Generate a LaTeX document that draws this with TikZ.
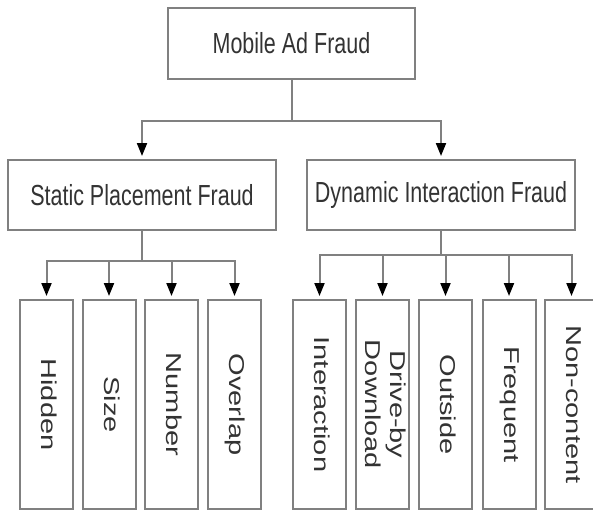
\documentclass[tikz,border=0pt]{standalone}
\usepackage{fontspec}
\usepackage{graphicx}
\setsansfont{Liberation Sans}
\usetikzlibrary{arrows.meta}

% text in the scan is drawn a bit taller than wide
\newcommand{\tallText}[1]{\scalebox{1}[1.35]{#1}}
\newcommand{\sideText}[1]{\rotatebox{-90}{\scalebox{1.35}[1]{\begin{tabular}{@{}c@{}}#1\end{tabular}}}}

\tikzset{
  box/.style={draw=black!50, line width=2pt, fill=white, inner sep=0pt,
    text=black!80, font=\sffamily\fontsize{21.5}{25}\selectfont},
  leafbox/.style={box, minimum width=53pt, minimum height=209pt},
  link/.style={draw=black!50, line width=2pt},
  arrowlink/.style={link, -{Triangle[color=black, width=10pt, length=13pt]}, shorten >=3pt}
}

\begin{document}
\begin{tikzpicture}[x=1pt, y=-1pt]
  % page size, the last leaf is cut at the right edge
  \useasboundingbox (0,0) rectangle (593,511);
  \clip (0,0) rectangle (593,511);

  % top two levels
  \node[box, minimum width=247pt, minimum height=71pt] (root) at (291.5,43.5) {\tallText{Mobile Ad Fraud}};
  \node[box, minimum width=268pt, minimum height=70pt] (static) at (142,195) {\tallText{Static Placement Fraud}};
  \node[box, minimum width=268pt, minimum height=70pt] (dynamic) at (441,195) {\tallText{Dynamic Interaction Fraud}};

  \coordinate (rootbar) at (291.5,121);
  \draw[link] (root.south) -- (rootbar);
  \draw[arrowlink] (rootbar) -| (static.north);
  \draw[arrowlink] (rootbar) -| (dynamic.north);

  % leaves
  \foreach \name/\x/\txt in {hidden/46.5/Hidden, size/109/Size, number/171.5/Number, overlap/234.5/Overlap} {
    \node[leafbox] (\name) at (\x,404.5) {\sideText{\txt}};
  }
  \foreach \name/\x/\txt in {interaction/319.5/Interaction, driveby/382.5/{Drive-by\\Download}, outside/445.5/Outside, frequent/509/Frequent, noncontent/571.5/Non-content} {
    \node[leafbox] (\name) at (\x,404.5) {\sideText{\txt}};
  }

  \coordinate (staticbar) at (142,261);
  \draw[link] (static.south) -- (staticbar);
  \foreach \name in {hidden,size,number,overlap}
    \draw[arrowlink] (staticbar) -| (\name.north);

  \coordinate (dynamicbar) at (441,255);
  \draw[link] (dynamic.south) -- (dynamicbar);
  \foreach \name in {interaction,driveby,outside,frequent,noncontent}
    \draw[arrowlink] (dynamicbar) -| (\name.north);
\end{tikzpicture}
\end{document}
